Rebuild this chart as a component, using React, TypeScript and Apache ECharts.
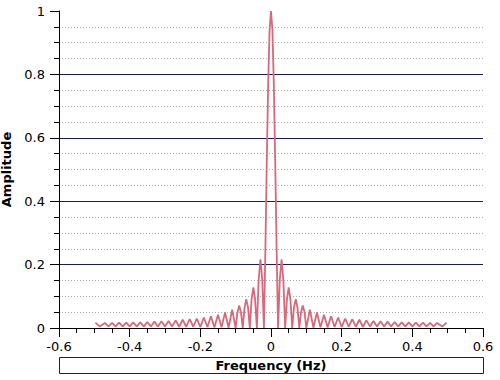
import React, { useEffect, useRef } from "react";
import * as echarts from "echarts";

// Positive half of the spectrum (mirrored for negative frequencies)
const freqHalf = [
  0, 0.004, 0.008, 0.012, 0.016, 0.02, 0.025, 0.03, 0.035, 0.04, 0.045, 0.05, 0.055, 0.06,
  0.065, 0.07, 0.075, 0.08, 0.085, 0.09, 0.095, 0.1, 0.11, 0.12, 0.13, 0.14, 0.15, 0.16,
  0.17, 0.18, 0.19, 0.2, 0.21, 0.22, 0.23, 0.24, 0.25, 0.26, 0.27, 0.28, 0.29, 0.3, 0.31,
  0.32, 0.33, 0.34, 0.35, 0.36, 0.37, 0.38, 0.39, 0.4, 0.41, 0.42, 0.43, 0.44, 0.45, 0.46,
  0.47, 0.485, 0.497,
];
const ampHalf = [
  1.0, 0.94, 0.77, 0.52, 0.24, 0.0, 0.155, 0.217, 0.15, 0.0, 0.09, 0.128, 0.09, 0.0,
  0.065, 0.091, 0.064, 0.0, 0.05, 0.071, 0.05, 0.0, 0.058, 0.001, 0.049, 0.002, 0.042, 0.002,
  0.037, 0.003, 0.033, 0.003, 0.03, 0.004, 0.028, 0.004, 0.026, 0.004, 0.024, 0.005, 0.022, 0.005, 0.021,
  0.005, 0.02, 0.005, 0.019, 0.005, 0.018, 0.005, 0.018, 0.005, 0.017, 0.005, 0.017, 0.005, 0.016, 0.005,
  0.016, 0.005, 0.017,
];

const xTicks = [-0.6, -0.4, -0.2, 0, 0.2, 0.4, 0.6];
const yTicks = [0, 0.2, 0.4, 0.6, 0.8, 1];

export default function App() {
  const ref = useRef<HTMLDivElement>(null);
  useEffect(() => {
    if (!ref.current) return;
    const chart = echarts.init(ref.current, undefined, { renderer: "svg" });
    const data: number[][] = [];
    for (let i = freqHalf.length - 1; i > 0; i--) data.push([-freqHalf[i], ampHalf[i]]);
    for (let i = 0; i < freqHalf.length; i++) data.push([freqHalf[i], ampHalf[i]]);
    const font = "DejaVu Sans";
    chart.setOption({
      animation: false,
      backgroundColor: "#fff",
      grid: { left: 59, right: 17, top: 11, bottom: 52, containLabel: false, outerBoundsMode: "none" },
      xAxis: {
        type: "value",
        min: xTicks[0],
        max: xTicks[xTicks.length - 1],
        interval: 0.2,
        axisLine: { show: true, onZero: false, lineStyle: { color: "#000", width: 1 } },
        axisTick: { show: true, inside: false, length: 9, lineStyle: { color: "#000" } },
        minorTick: { show: true, splitNumber: 4, length: 5, lineStyle: { color: "#000" } },
        splitLine: { show: false },
        axisLabel: {
          margin: 12,
          fontSize: 13,
          color: "#000",
          fontFamily: font,
          formatter: (v: number) => String(Math.round(v * 10) / 10),
        },
      },
      yAxis: {
        type: "value",
        min: yTicks[0],
        max: yTicks[yTicks.length - 1],
        interval: 0.2,
        name: "Amplitude",
        nameLocation: "middle",
        nameRotate: 90,
        nameGap: 44,
        nameTextStyle: { fontSize: 13, fontWeight: "bold", color: "#000", fontFamily: font },
        axisLine: { show: true, onZero: false, lineStyle: { color: "#000", width: 1 } },
        axisTick: { show: true, inside: false, length: 9, lineStyle: { color: "#000" } },
        minorTick: { show: true, splitNumber: 4, length: 5, lineStyle: { color: "#000" } },
        splitLine: {
          show: true,
          showMinLine: false,
          showMaxLine: false,
          lineStyle: { color: "#1a1a5c", width: 1 },
        },
        minorSplitLine: { show: true, lineStyle: { color: "#a8a8a8", type: [1, 2], width: 1 } },
        axisLabel: {
          margin: 14,
          fontSize: 13,
          color: "#000",
          fontFamily: font,
          formatter: (v: number) => String(Math.round(v * 10) / 10),
        },
      },
      graphic: [
        {
          type: "rect",
          shape: { x: 59.5, y: 357.5, width: 424, height: 16 },
          style: { fill: "#fff", stroke: "#1c1c50", lineWidth: 1 },
        },
        {
          type: "text",
          x: 271,
          y: 365.5,
          style: {
            text: "Frequency (Hz)",
            fontSize: 13,
            fontWeight: "bold",
            fontFamily: font,
            fill: "#000",
            align: "center",
            verticalAlign: "middle",
          },
        },
      ],
      series: [
        {
          type: "line",
          data,
          showSymbol: false,
          lineStyle: { color: "#d8687a", width: 1.8 },
          clip: true,
        },
      ],
    });
    return () => chart.dispose();
  }, []);
  return (
    <div
      ref={ref}
      style={{ position: "fixed", left: 0, top: 0, width: 500, height: 380 }}
    />
  );
}
